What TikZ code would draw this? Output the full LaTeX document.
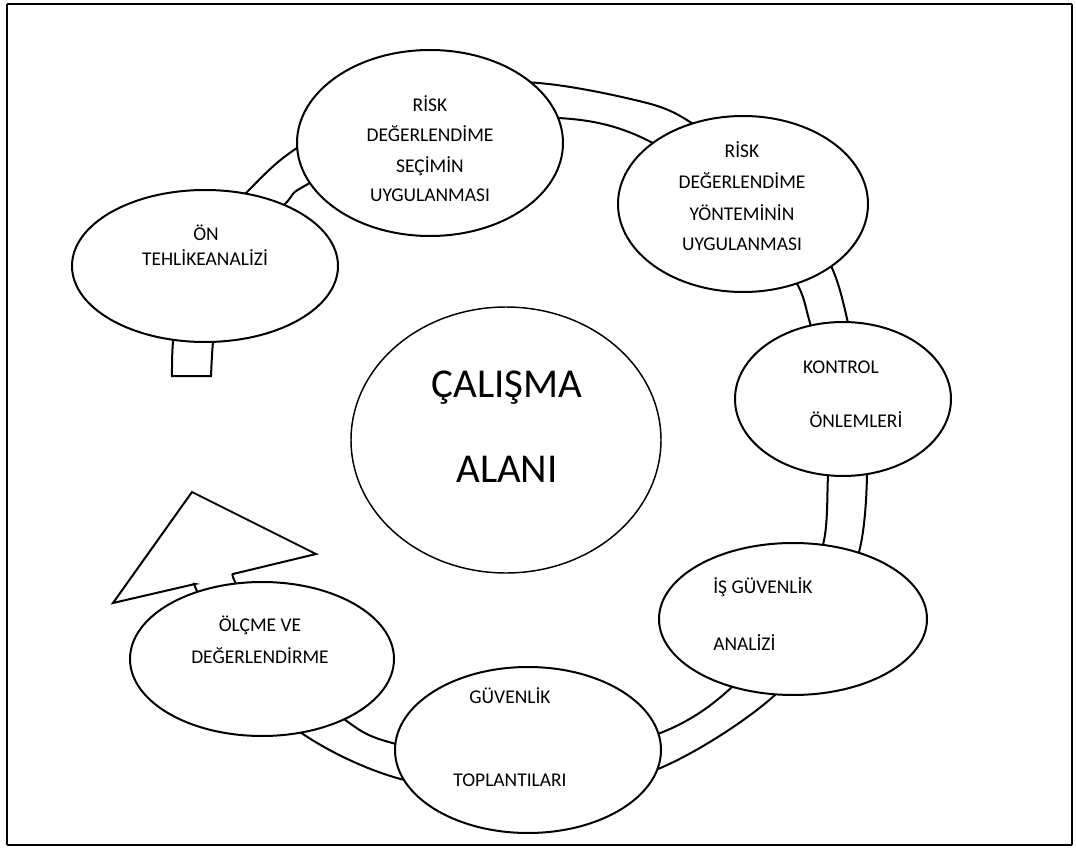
\documentclass[tikz,border=0pt]{standalone}
\usepackage{fontspec}
\setmainfont{Carlito}
\usetikzlibrary{shapes.geometric}
\begin{document}
\begin{tikzpicture}[x=0.75pt,y=-0.75pt,
  bubble/.style={ellipse, draw, fill=white, line width=1.5pt, inner sep=0pt},
  lbl/.style={anchor=base, inner sep=0pt, font=\fontsize{14.6}{17}\selectfont},
  biglbl/.style={anchor=base, inner sep=0pt, font=\fontsize{30.75}{36}\selectfont},
  band/.style={draw, fill=white, line width=1.5pt, line join=miter}]
\useasboundingbox (0,0) rectangle (1076,849);

% page frame
\coordinate (fa) at (7,4);
\coordinate (fb) at (1072,4);
\coordinate (fc) at (1072,845);
\coordinate (fd) at (7,845);
\draw[line width=1.1pt] (fa) -- (fd);
\draw[line width=1.1pt] (fb) -- (fc);
\draw[line width=2.2pt] (fa) -- (fb);
\draw[line width=2.2pt] (fd) -- (fc);

% circular arrow band: outer edge, arrow head, inner edge, tail
\draw[band] plot[smooth, tension=0.55] coordinates {(172,376) (173,342) (180,300) (205,240) (247,192) (297,148) (390,100) (520,82) (647,103) (700,128) (755,165) (800,215) (832,268) (848,323) (862,400) (867,475) (859,552) (830,612) (775,695) (658,769) (527,797) (397,778) (300,732) (235,665) (198,593) (195,584)}
  -- (113,603) -- (192,492) -- (316,554)
  -- plot[smooth, tension=0.55] coordinates {(233,574) (236,584) (270,650) (344,719) (396,744) (517,765) (655,735) (732,687) (795,605) (823,545) (828,475) (830,400) (810,323) (795,280) (745,210) (647,140) (558,118) (420,128) (308,184) (286,203) (240,260) (218,310) (213,342) (211,376)}
  -- cycle;

% steps of the cycle
\node[bubble, minimum width=199.5pt, minimum height=114pt]   (on)      at (205,266) {};
\node[bubble, minimum width=199.5pt, minimum height=139.5pt] (secim)   at (430,143) {};
\node[bubble, minimum width=187.5pt, minimum height=132pt]   (yontem)  at (743,204) {};
\node[bubble, minimum width=162pt,   minimum height=115.5pt] (kontrol) at (843,399) {};
\node[bubble, minimum width=201pt,   minimum height=114pt]   (isg)     at (793,619) {};
\node[bubble, minimum width=199.5pt, minimum height=124.5pt] (topl)    at (528,750) {};
\node[bubble, minimum width=198pt,   minimum height=115.5pt] (olcme)   at (262,659) {};
\node[bubble, minimum width=232.5pt, minimum height=199.5pt, line width=1.1pt] (alan) at (506,440) {};

% labels
\node[lbl] (on1) at (206,240) {ÖN};
\node[lbl] (on2) at (205,265.5) {TEHLİKEANALİZİ};

\node[lbl] (se1) at (430,112) {RİSK};
\node[lbl] (se2) at (430,142) {DEĞERLENDİME};
\node[lbl] (se3) at (430,172) {SEÇİMİN};
\node[lbl] (se4) at (430,201.5) {UYGULANMASI};

\node[lbl] (yo1) at (742,158) {RİSK};
\node[lbl] (yo2) at (742,189) {DEĞERLENDİME};
\node[lbl] (yo3) at (742,220) {YÖNTEMİNİN};
\node[lbl] (yo4) at (742,250) {UYGULANMASI};

\node[lbl] (ko1) at (841,373) {KONTROL};
\node[lbl] (ko2) at (856,427) {ÖNLEMLERİ};

\node[lbl, anchor=base west] (is1) at (713,593) {İŞ GÜVENLİK};
\node[lbl, anchor=base west] (is2) at (713,650) {ANALİZİ};

\node[lbl] (to1) at (510,703) {GÜVENLİK};
\node[lbl] (to2) at (510,786) {TOPLANTILARI};

\node[lbl] (ol1) at (260,631) {ÖLÇME VE};
\node[lbl] (ol2) at (260,663) {DEĞERLENDİRME};

\node[biglbl] (al1) at (507,397) {ÇALIŞMA};
\node[biglbl] (al2) at (507,482) {ALANI};
\end{tikzpicture}
\end{document}
